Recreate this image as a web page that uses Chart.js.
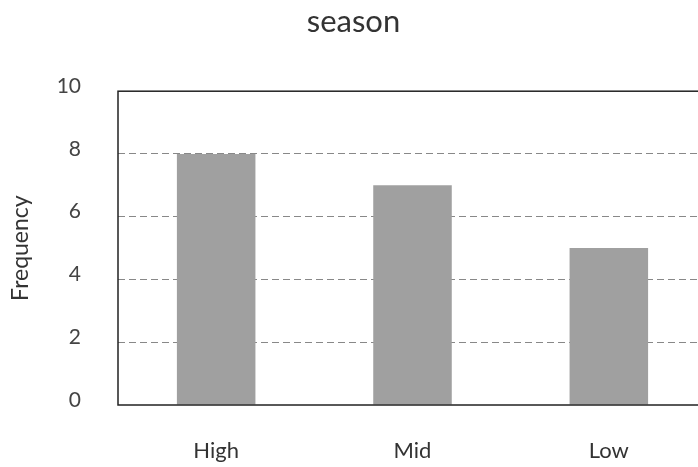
<!DOCTYPE html>
<html>
<head>
<meta charset="utf-8">
<script src="https://cdn.jsdelivr.net/npm/chart.js@4.4.0/dist/chart.umd.min.js"></script>
<style>
    html, body { margin: 0; padding: 0; background: #fff; overflow: hidden; }
    #wrap { width: 698px; height: 467px; overflow: hidden; }
</style>
</head>
<body>
<div id="wrap"><canvas id="barChart" width="720" height="467"></canvas></div>
<script>
const categories = ['High', 'Mid', 'Low'];
const frequency = [8, 7, 5];
const yTicks = [0, 2, 4, 6, 8, 10];

// box round the plot area, like the original
const boxPlugin = {
    id: 'box',
    afterDatasetsDraw(chart) {
        const a = chart.chartArea;
        const ctx = chart.ctx;
        ctx.save();
        ctx.strokeStyle = '#222';
        ctx.lineWidth = 1.5;
        ctx.strokeRect(a.left, a.top, a.right - a.left, a.bottom - a.top);
        ctx.restore();
    }
};

const ctx = document.getElementById('barChart').getContext('2d');
new Chart(ctx, {
    type: 'bar',
    data: {
        labels: categories,
        datasets: [{
            label: 'season',
            data: frequency,
            backgroundColor: '#a0a0a0',
            barPercentage: 0.4,
            categoryPercentage: 1.0
        }]
    },
    options: {
        responsive: false,
        animation: false,
        layout: {padding: {left: 0, right: 13, top: 0, bottom: 0}},
        scales: {
            x: {
                grid: {display: false},
                border: {display: false},
                ticks: {color: '#333', padding: 25, font: {family: 'Lato', size: 22}},
                afterFit: (scale) => { scale.height = 62; }
            },
            y: {
                min: 0,
                max: 10,
                afterBuildTicks: (scale) => { scale.ticks = yTicks.map(v => ({value: v})); },
                grid: {
                    drawTicks: false,
                    color: (c) => (c.tick && (c.tick.value === 0 || c.tick.value === 10)) ? 'rgba(0,0,0,0)' : '#888',
                    lineWidth: 1
                },
                border: {display: false, dash: [7, 4]},
                ticks: {color: '#444', padding: 37, labelOffset: -5, font: {family: 'Lato', size: 21}},
                title: {display: true, text: 'Frequency', color: '#333', font: {family: 'Lato', size: 23}, padding: {top: 7, bottom: 0}},
                afterFit: (scale) => { scale.width = 118; }
            }
        },
        plugins: {
            legend: {display: false},
            tooltip: {enabled: false},
            title: {
                display: true,
                text: 'season',
                color: '#333',
                font: {family: 'Lato', size: 31, weight: 'normal'},
                padding: {top: 3, bottom: 51}
            }
        }
    },
    plugins: [boxPlugin]
});
</script>
</body>
</html>
